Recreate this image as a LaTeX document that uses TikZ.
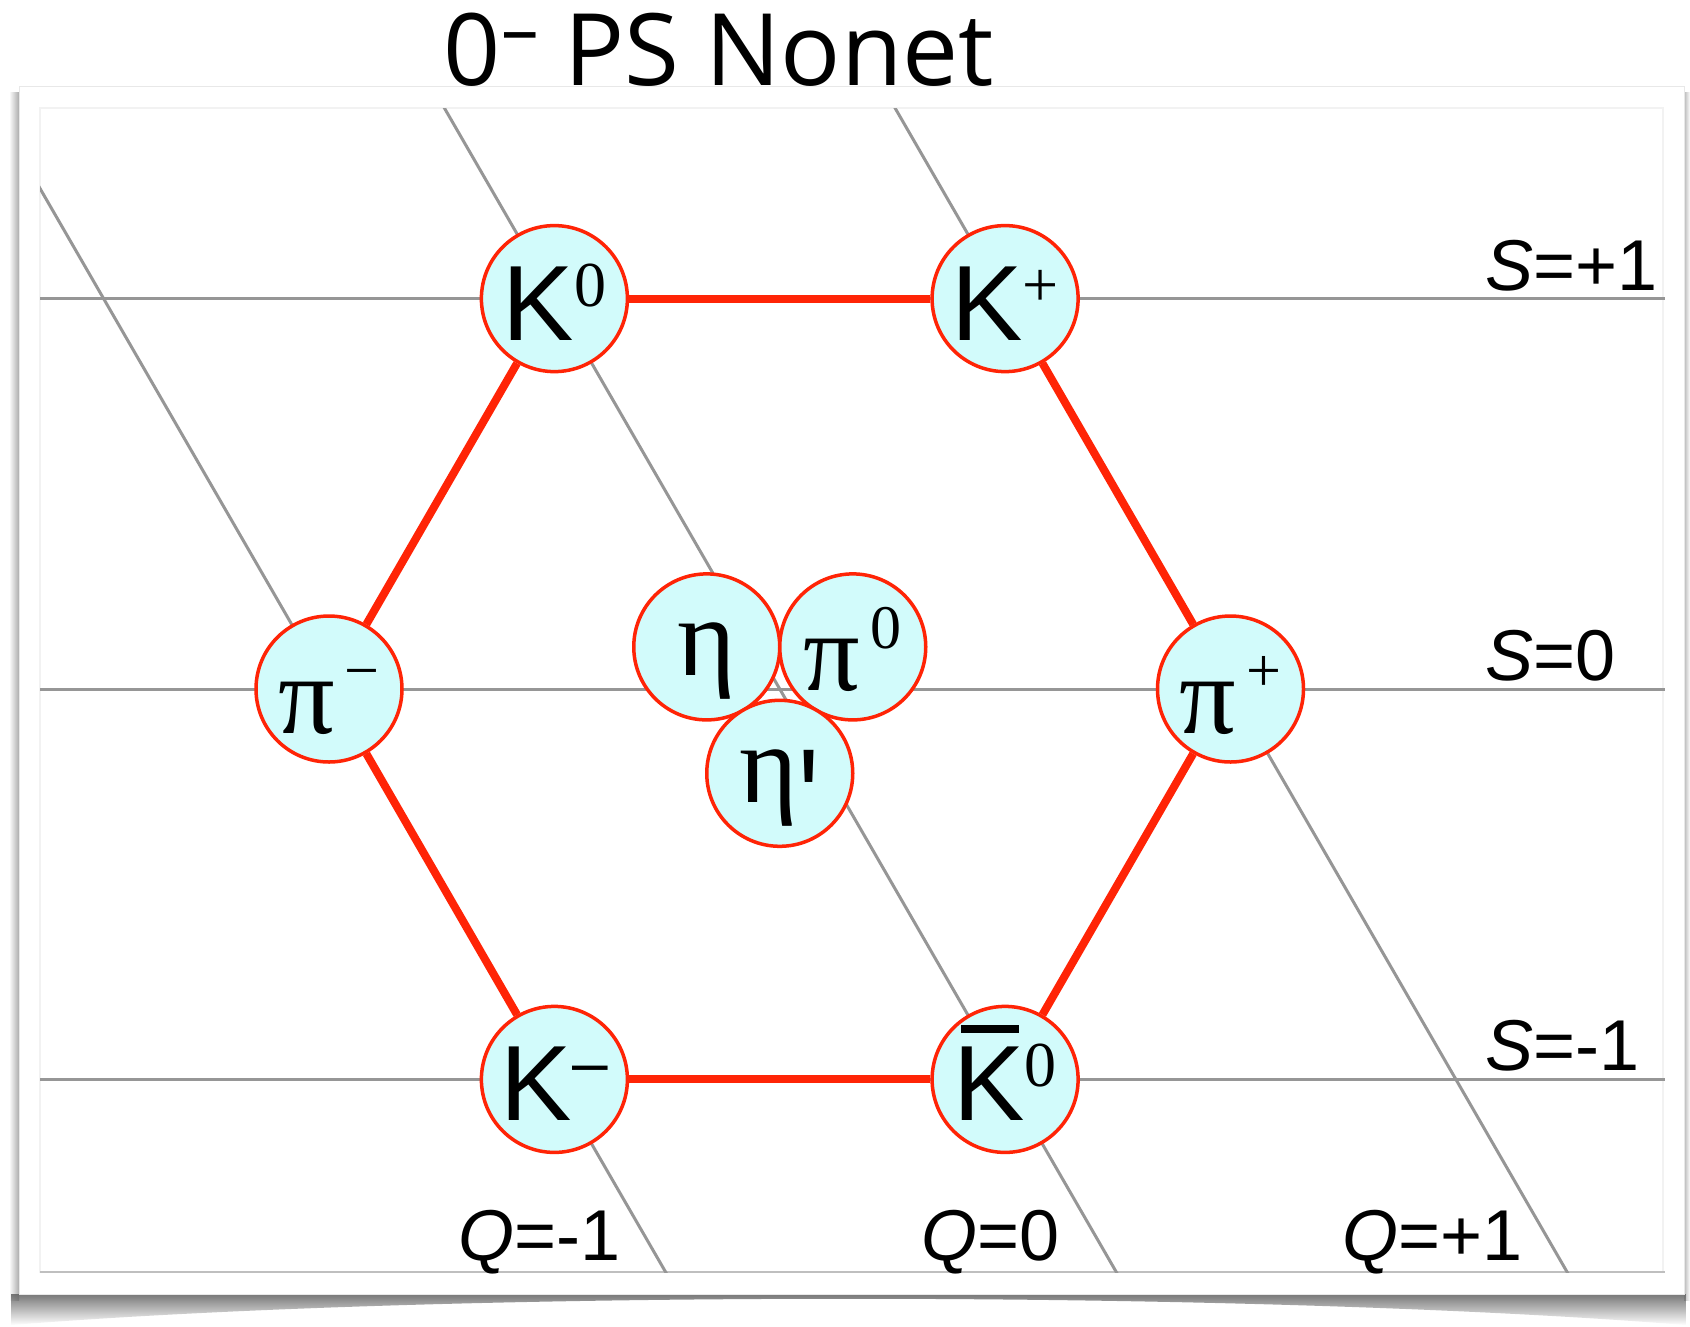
\documentclass[tikz,border=0pt]{standalone}
\usepackage{fontspec}
\usepackage{graphicx}
\setmainfont{Liberation Serif}
\newfontfamily\sansf{Liberation Sans}
\newfontfamily\serf{Liberation Serif}
\newfontfamily\titlef{Open Sans}
\usetikzlibrary{calc,fadings}
\definecolor{hexred}{RGB}{255,36,6}
\definecolor{nodefill}{RGB}{210,251,251}
\definecolor{gridgray}{RGB}{150,150,150}
\newcommand{\bigK}{\sansf\fontsize{107}{107}\selectfont K}
\newcommand{\barK}{\sansf\fontsize{107}{107}\selectfont\makebox[0pt][l]{\hspace{0.075em}\rule[0.82em]{0.54em}{0.075em}}K}
\newcommand{\ksup}[1]{\raisebox{34pt}{\serf\fontsize{64}{64}\selectfont #1}}
\newcommand{\ksupsans}[1]{\raisebox{36pt}{\sansf\fontsize{64}{64}\selectfont #1}}
\newcommand{\grk}{\serf\fontsize{112}{112}\selectfont}
\newcommand{\psup}[1]{\hspace{10pt}\raisebox{42pt}{\serf\fontsize{62}{62}\selectfont #1}}
\begin{document}
\begin{tikzpicture}[x=1pt,y=-1pt,
  particle/.style={circle, draw=hexred, line width=3.5pt, fill=nodefill,
    minimum size=146pt, inner sep=0pt, text depth=0pt},
  kstyle/.style={particle, text height=83pt},
  pistyle/.style={particle, text height=88pt},
  etastyle/.style={particle, text height=58pt},
  gridline/.style={gridgray, line width=3pt},
  hexedge/.style={hexred, line width=8pt},
  axislabel/.style={font=\sansf\fontsize{72}{72}\selectfont, anchor=base west, inner sep=0pt}]
\useasboundingbox (0,0) rectangle (1690,1326);
\fill[white] (0,0) rectangle (1690,1326);
% shadows
\shade[left color=white, right color=gray!65] (9,92) rectangle (19,1300);
\shade[left color=gray!55, right color=white] (1684,92) rectangle (1690,1300);
\shade[left color=black!60, middle color=black!40, right color=black!60, path fading=south]
  (12,1294) -- (1688,1294) -- (1688,1325) .. controls (1250,1290) and (450,1290) .. (12,1325) -- cycle;
% panel
\filldraw[fill=white, draw=gray!18, line width=1pt] (19,86) rectangle (1684,1294);
\draw[gray!10, line width=1.2pt] (40,108) rectangle (1663,1272);
\draw[gray!50, line width=1.6pt] (40,1272) -- (1665,1272);
% title
\node[font=\titlef\fontsize{100}{100}\selectfont, anchor=base, inner sep=0pt] (title) at (719,85)
  {0\raisebox{30pt}{\fontsize{75}{75}\selectfont –} PS Nonet};
% positions
\coordinate (cK0) at (554.4,298.6);
\coordinate (cKp) at (1005.1,298.6);
\coordinate (cpim) at (329,689);
\coordinate (cpip) at (1230.5,689);
\coordinate (cKm) at (554.4,1079.4);
\coordinate (cKb) at (1005.1,1079.4);
\coordinate (ceta) at (706.75,646.9);
\coordinate (cpi0) at (852.75,646.9);
\coordinate (cetap) at (779.75,773.3);
% grid lines
\foreach \yy in {298.6,689,1079.4} \draw[gridline] (40,\yy) -- (1665,\yy);
\begin{scope}
\clip (40,108) rectangle (1665,1272);
\draw[gridline] ($(cpim)!-3!(cKm)$) -- ($(cpim)!4!(cKm)$);
\draw[gridline] ($(cK0)!-2!(cKb)$) -- ($(cK0)!3!(cKb)$);
\draw[gridline] ($(cKp)!-3!(cpip)$) -- ($(cKp)!4!(cpip)$);
\end{scope}
% particles
\node[kstyle] (K0) at (cK0) {\bigK\ksup{0}};
\node[kstyle] (Kp) at (cKp) {\bigK\ksup{+}};
\node[kstyle] (Km) at (cKm) {\bigK\ksupsans{–}};
\node[kstyle] (Kb) at (cKb) {\barK\ksup{0}};
\node[pistyle] (pim) at (cpim) {\grk π\psup{−}};
\node[pistyle] (pip) at (cpip) {\grk π\psup{+}};
\node[etastyle] (eta) at (ceta) {\grk η};
\node[pistyle] (pi0) at (cpi0) {\grk π\psup{0}};
\node[etastyle] (etap) at (cetap) {\grk η\raisebox{-50pt}{\sansf\fontsize{110}{110}\selectfont\scalebox{1}[1.35]{'}}};
% hexagon edges
\draw[hexedge] (K0) -- (Kp);
\draw[hexedge] (Kp) -- (pip);
\draw[hexedge] (pip) -- (Kb);
\draw[hexedge] (Kb) -- (Km);
\draw[hexedge] (Km) -- (pim);
\draw[hexedge] (pim) -- (K0);
% axis labels
\node[axislabel] (s1) at (1485,290.5) {\textit{S}=+1};
\node[axislabel] (s0) at (1485,680.5) {\textit{S}=0};
\node[axislabel] (sm) at (1485,1070.5) {\textit{S}=-1};
\node[axislabel] (qm) at (458,1260) {\textit{Q}=-1};
\node[axislabel] (q0) at (921,1260) {\textit{Q}=0};
\node[axislabel] (qp) at (1342,1260) {\textit{Q}=+1};
\end{tikzpicture}
\end{document}
